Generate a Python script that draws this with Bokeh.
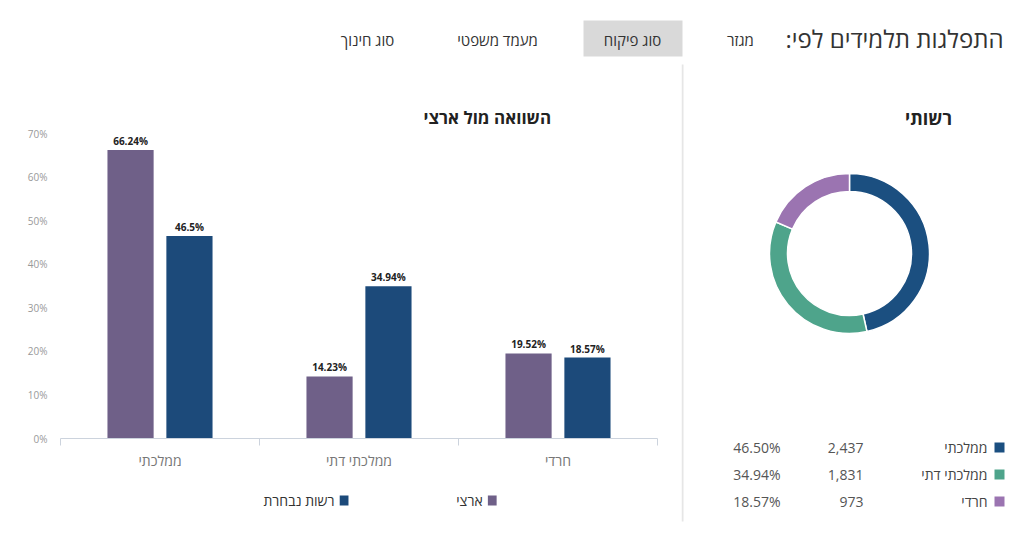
import math
from bokeh.plotting import figure
from bokeh.models import Range1d, FixedTicker, PrintfTickFormatter
from bokeh.layouts import column, row
from bokeh.core.properties import value
from bokeh.embed import file_html
from bokeh.resources import INLINE

# ---------------- data ----------------
header_title = "התפלגות תלמידים לפי:\u200f"
tabs = ["מגזר", "סוג פיקוח", "מעמד משפטי", "סוג חינוך"]
active_tab = "סוג פיקוח"

bar_title = "השוואה מול ארצי"
categories = ["ממלכתי", "ממלכתי דתי", "חרדי"]
series_names = ["ארצי", "רשות נבחרת"]
national = [66.24, 14.23, 19.52]
local = [46.5, 34.94, 18.57]
y_ticks = [0, 10, 20, 30, 40, 50, 60, 70]

donut_title = "רשותי"
donut_labels = ["ממלכתי", "ממלכתי דתי", "חרדי"]
donut_counts = [2437, 1831, 973]

FONT = value("Open Sans")
C_NAT = "#6f6088"
C_LOC = "#1c4a7a"
DONUT_COLORS = ["#1b4f80", "#4ea48b", "#9b74b1"]

# ---------------- header ----------------
HW, HH = 1016, 63
hdr = figure(width=HW, height=HH, x_range=Range1d(0, HW), y_range=Range1d(0, HH),
             output_backend="svg", toolbar_location=None, min_border=0)
hdr.axis.visible = False
hdr.grid.visible = False
hdr.outline_line_color = None

tab_centers = [740, 632, 497, 367]
idx = tabs.index(active_tab)
hdr.quad(left=[tab_centers[idx] - 49], right=[tab_centers[idx] + 50], bottom=[HH - 56], top=[HH - 20],
         fill_color="#d9d9d9", line_color=None)
hdr.text(x=tab_centers, y=[HH - 39] * len(tabs), text=tabs, text_font=FONT, text_font_size="15px",
         text_color="#333333", text_align="center", text_baseline="middle")
hdr.text(x=[1003], y=[HH - 38], text=[header_title], text_font=FONT, text_font_size="24px",
         text_color="#333333", text_align="right", text_baseline="middle")

# ---------------- bar chart ----------------
BW, BH = 681, 417
xs = [i + 1 for i in range(len(categories))]
p = figure(width=BW, height=BH, x_range=Range1d(0.5, len(categories) + 0.5), y_range=Range1d(0, 70),
           output_backend="svg", toolbar_location=None,
           min_border_left=60, min_border_right=24, min_border_top=70, min_border_bottom=42)
p.outline_line_color = None
p.grid.visible = False

p.title.text = bar_title
p.title.align = "left"
p.title.offset = 363
p.title.text_font = "Open Sans"
p.title.text_font_style = "bold"
p.title.text_font_size = "17px"
p.title.text_color = "#222222"

off = 0.148
bw = 0.232
x_nat = [x - off for x in xs]
x_loc = [x + off for x in xs]
p.vbar(x=x_nat, top=national, width=bw, bottom=0, fill_color=C_NAT, line_color=None)
p.vbar(x=x_loc, top=local, width=bw, bottom=0, fill_color=C_LOC, line_color=None)

fmt = lambda v: f"{v:g}%"
p.text(x=x_nat + x_loc, y=national + local, text=[fmt(v) for v in national + local],
       text_font=FONT, text_font_style="bold", text_font_size="10px", text_color="#222222",
       text_align="center", text_baseline="bottom", y_offset=-2)

# y axis
p.yaxis.ticker = FixedTicker(ticks=y_ticks)
p.yaxis.formatter = PrintfTickFormatter(format="%d%%")
p.yaxis.axis_line_color = None
p.yaxis.major_tick_line_color = None
p.yaxis.major_tick_out = 0
p.yaxis.minor_tick_line_color = None
p.yaxis.major_label_text_font = "Open Sans"
p.yaxis.major_label_text_font_size = "10px"
p.yaxis.major_label_text_color = "#999999"
p.yaxis.major_label_standoff = 13

# x axis
p.xaxis.ticker = FixedTicker(ticks=xs, minor_ticks=[x - 0.5 for x in xs] + [xs[-1] + 0.5])
p.xaxis.major_label_overrides = {x: c for x, c in zip(xs, categories)}
p.xaxis.axis_line_color = "#ccd3dd"
p.xaxis.major_tick_line_color = None
p.xaxis.major_tick_out = 0
p.xaxis.minor_tick_line_color = "#ccd3dd"
p.xaxis.minor_tick_in = 0
p.xaxis.minor_tick_out = 7
p.xaxis.major_label_text_font = "Open Sans"
p.xaxis.major_label_text_font_size = "14px"
p.xaxis.major_label_text_color = "#777777"
p.xaxis.major_label_standoff = 5

# legend strip
LW, LH = 681, 50
lg = figure(width=LW, height=LH, x_range=Range1d(0, LW), y_range=Range1d(0, LH),
            output_backend="svg", toolbar_location=None, min_border=0)
lg.axis.visible = False
lg.grid.visible = False
lg.outline_line_color = None
sq_x = [492.5, 323.5]
lg.rect(x=sq_x, y=[LH - 20] * 2, width=10, height=10, fill_color=[C_NAT, C_LOC], line_color=None)
lg.text(x=[s - 11 for s in sq_x], y=[LH - 20] * 2, text=series_names, text_font=FONT,
        text_font_size="14px", text_color="#333333", text_align="right", text_baseline="middle")

# ---------------- donut ----------------
DW, DH = 335, 467
d = figure(width=DW, height=DH, x_range=Range1d(0, DW), y_range=Range1d(0, DH),
           output_backend="svg", toolbar_location=None, min_border=0)
d.axis.visible = False
d.grid.visible = False
d.outline_line_color = None

d.segment(x0=[1], y0=[DH - 1], x1=[1], y1=[DH - 458], line_color="#e6e6e6", line_width=2)

total = sum(donut_counts)
fracs = [c / total for c in donut_counts]
starts, ends = [], []
a = math.pi / 2
for f in fracs:
    starts.append(a)
    a -= 2 * math.pi * f
    ends.append(a)
d.annular_wedge(x=168, y=DH - 190, inner_radius=62, outer_radius=80, start_angle=starts, end_angle=ends,
                direction="clock", fill_color=DONUT_COLORS, line_color="white", line_width=1.5)

d.text(x=[247], y=[DH - 54], text=[donut_title], text_font=FONT, text_font_style="bold",
       text_font_size="18px", text_color="#222222", text_align="center", text_baseline="middle")

row_y = [DH - 384, DH - 411, DH - 438]
d.rect(x=[318] * 3, y=row_y, width=10, height=10, fill_color=DONUT_COLORS, line_color=None)
d.text(x=[306] * 3, y=row_y, text=donut_labels, text_font=FONT, text_font_size="14px",
       text_color="#444444", text_align="right", text_baseline="middle")
d.text(x=[182] * 3, y=row_y, text=[f"{c:,}" for c in donut_counts], text_font=FONT, text_font_size="14px",
       text_color="#555555", text_align="right", text_baseline="middle")
d.text(x=[99] * 3, y=row_y, text=[f"{f * 100:.2f}%" for f in fracs], text_font=FONT, text_font_size="14px",
       text_color="#555555", text_align="right", text_baseline="middle")

layout = column(hdr, row(column(p, lg), d))
open("out.html", "w").write(file_html(layout, INLINE))
